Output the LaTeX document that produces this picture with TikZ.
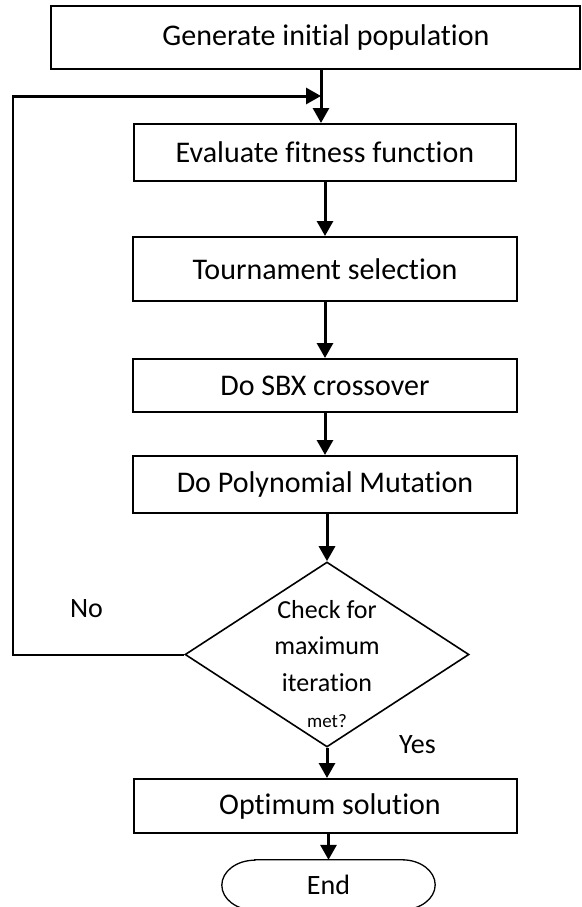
\documentclass[tikz,border=0pt]{standalone}
\usepackage{fontspec}
\setmainfont{Carlito}[RawFeature={-liga;-clig;-dlig}]
\usetikzlibrary{arrows.meta,shapes.geometric,calc}
\begin{document}
\begin{tikzpicture}[x=1pt,y=-1pt,
  box/.style={draw=black,line width=2pt,rectangle,inner sep=0pt,
    font=\fontsize{30}{36}\selectfont},
  arr/.style={line width=3pt,-{Triangle[length=15pt,width=16pt]}},
  lbl/.style={inner sep=0pt,font=\fontsize{28}{34}\selectfont},
  loopline/.style={line width=2pt}]
\useasboundingbox[fill=white] (0,0) rectangle (581,907);

\node[box,minimum width=529pt,minimum height=63pt] (b1) at (315.5,37.5)
  {\hspace*{21pt}Generate initial population};
\node[box,minimum width=382pt,minimum height=57pt] (b2) at (325,152.5)
  {Evaluate fitness function};
\node[box,minimum width=384pt,minimum height=64pt] (b3) at (325,269)
  {Tournament selection};
\node[box,minimum width=384pt,minimum height=53pt] (b4) at (325,385.5)
  {Do SBX crossover};
\node[box,minimum width=384pt,minimum height=57pt] (b5) at (325,484.5)
  {Do Polynomial Mutation};
\node[draw=black,line width=1.6pt,diamond,inner sep=0pt,
  minimum width=284pt,minimum height=185pt] (q) at (327,654.5) {};
\node[inner sep=0pt,align=center,font=\fontsize{26}{36.5}\selectfont] (qt) at (327,664)
  {Check for\\maximum\\iteration\\{\fontsize{19}{36.5}\selectfont met?}};
\node[box,minimum width=383pt,minimum height=54pt] (b6) at (325.5,806)
  {\hspace*{9pt}Optimum solution};
\node[inner sep=0pt,minimum width=213pt,minimum height=50pt,
  font=\fontsize{28}{34}\selectfont] (e) at (328.5,885) {End};
\draw[line width=1.3pt] ([xshift=33pt]e.north west) -- ([xshift=-33pt]e.north east)
  arc[start angle=90,end angle=-90,x radius=33pt,y radius=25pt]
  -- ([xshift=33pt]e.south west)
  arc[start angle=270,end angle=90,x radius=33pt,y radius=25pt] -- cycle;

\node[lbl] (no) at (86.5,609) {No};
\node[lbl] (yes) at (417.5,745) {Yes};

\coordinate (j) at (321,96);
\coordinate (lc) at (13,96);

\draw[arr] (b1.south -| j) -- (b2.north -| j);
\draw[arr] (b2.south) -- (b3.north);
\draw[arr] (b3.south) -- (b4.north);
\draw[arr] (b4.south) -- (b5.north);
\draw[arr] (b5.south -| q.north) -- (q.north);
\draw[arr] (q.south) -- (q.south |- b6.north);
\draw[arr] ([xshift=3pt]b6.south) -- ([xshift=3pt]b6.south |- e.north);

\draw[loopline] (q.west) -- (q.west -| lc) -- (lc);
\draw[arr] ([xshift=-1pt]lc) -- (j);
\end{tikzpicture}
\end{document}
